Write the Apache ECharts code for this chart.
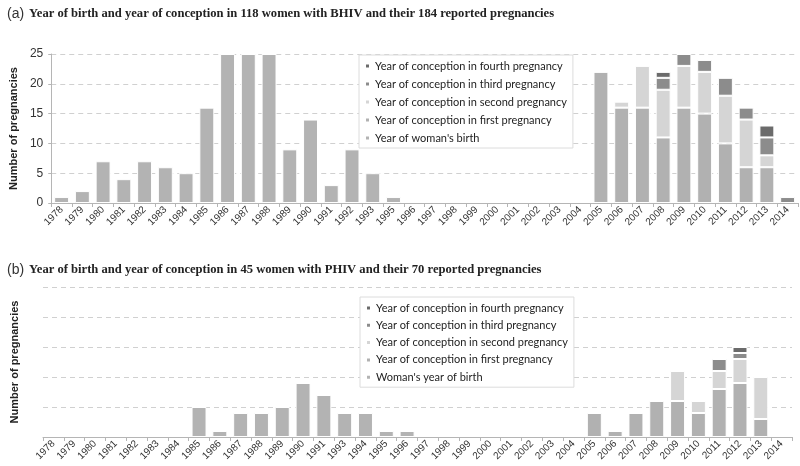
<!DOCTYPE html>
<html>
<head>
<meta charset="utf-8">
<script src="https://cdn.jsdelivr.net/npm/echarts@6/dist/echarts.min.js"></script>
<style>html,body{margin:0;padding:0;background:#fff}#c{width:800px;height:466px}</style>
</head>
<body>
<div id="c"></div>
<script>
// ---- Panel (a) ----
const yearsA = ['1978','1979','1980','1981','1982','1983','1984','1985','1986','1987','1988','1989','1990','1991','1992','1993','1995','1996','1997','1998','1999','2000','2001','2002','2003','2004','2005','2006','2007','2008','2009','2010','2011','2012','2013','2014'];
const birthA  = [1,2,7,4,7,6,5,16,25,25,25,9,14,3,9,5,1,0,0,0,0,0,0,0,0,0,0,0,0,0,0,0,0,0,0,0];
const firstA  = [0,0,0,0,0,0,0,0,0,0,0,0,0,0,0,0,0,0,0,0,0,0,0,0,0,0,22,16,16,11,16,15,10,6,6,0];
const secondA = [0,0,0,0,0,0,0,0,0,0,0,0,0,0,0,0,0,0,0,0,0,0,0,0,0,0,0,1,7,8,7,7,8,8,2,0];
const thirdA  = [0,0,0,0,0,0,0,0,0,0,0,0,0,0,0,0,0,0,0,0,0,0,0,0,0,0,0,0,0,2,2,2,3,2,3,1];
const fourthA = [0,0,0,0,0,0,0,0,0,0,0,0,0,0,0,0,0,0,0,0,0,0,0,0,0,0,0,0,0,1,0,0,0,0,2,0];

// ---- Panel (b) ----
const yearsB = ['1978','1979','1980','1981','1982','1983','1984','1985','1986','1987','1988','1989','1990','1991','1993','1994','1995','1996','1997','1998','1999','2000','2001','2002','2003','2004','2005','2006','2007','2008','2009','2010','2011','2012','2013','2014'];
const birthB  = [0,0,0,0,0,0,0,5,1,4,4,5,9,7,4,4,1,1,0,0,0,0,0,0,0,0,0,0,0,0,0,0,0,0,0,0];
const firstB  = [0,0,0,0,0,0,0,0,0,0,0,0,0,0,0,0,0,0,0,0,0,0,0,0,0,0,4,1,4,6,6,4,8,9,3,0];
const secondB = [0,0,0,0,0,0,0,0,0,0,0,0,0,0,0,0,0,0,0,0,0,0,0,0,0,0,0,0,0,0,5,2,3,4,7,0];
const thirdB  = [0,0,0,0,0,0,0,0,0,0,0,0,0,0,0,0,0,0,0,0,0,0,0,0,0,0,0,0,0,0,0,0,2,1,0,0];
const fourthB = [0,0,0,0,0,0,0,0,0,0,0,0,0,0,0,0,0,0,0,0,0,0,0,0,0,0,0,0,0,0,0,0,0,1,0,0];

const yTicks = [0,5,10,15,20,25];

const titleA = 'Year of birth and year of conception in 118 women with BHIV and their 184 reported pregnancies';
const titleB = 'Year of birth and year of conception in 45 women with PHIV and their 70 reported pregnancies';
const nFourth = 'Year of conception in fourth pregnancy';
const nThird = 'Year of conception in third pregnancy';
const nSecond = 'Year of conception in second pregnancy';
const nFirst = 'Year of conception in first pregnancy';
const nBirthA = "Year of woman's birth";
const nBirthB = "Woman's year of birth";

const colors = {birth:'#b3b3b3', first:'#b1b1b1', second:'#d5d5d5', third:'#8c8c8c', fourth:'#6b6b6b'};

const nz = a => a.map(v => v === 0 ? null : v);

function bar(name, data, idx, color, stack) {
  return {
    name, type:'bar', stack, xAxisIndex:idx, yAxisIndex:idx,
    data: nz(data), barCategoryGap:'28%',
    itemStyle:{color, borderColor:'#fff', borderWidth:1},
    emphasis:{disabled:true}, animation:false
  };
}

const chart = echarts.init(document.getElementById('c'), null, {renderer:'canvas'});

const xAxisCommon = {
  type:'category', boundaryGap:true,
  axisLine:{lineStyle:{color:'#b5b5b5', width:1}},
  axisTick:{show:true, length:4, lineStyle:{color:'#b5b5b5'}},
  axisLabel:{rotate:45, fontSize:10, color:'#333', fontFamily:'Liberation Sans', margin:5, interval:0}
};

const titleRich = {
  p:{fontFamily:'Liberation Sans', fontSize:14, color:'#333', fontWeight:'normal'},
  t:{fontFamily:'Liberation Serif', fontSize:12.6, fontWeight:'bold', color:'#222'}
};

const legendCommon = {
  orient:'vertical', itemWidth:5, itemHeight:5, icon:'rect',
  backgroundColor:'#fff', borderColor:'#dcdcdc', borderWidth:1,
  textStyle:{fontFamily:'Lato', fontSize:11, color:'#222', lineHeight:14},
  padding:[4,6,3,5], selectedMode:false
};

chart.setOption({
  animation:false,
  title:[
    {text:'{p|(a)} {t|' + titleA + '}', left:2, top:0, textStyle:{rich:titleRich}},
    {text:'{p|(b)} {t|' + titleB + '}', left:2, top:256, textStyle:{rich:titleRich}}
  ],
  legend:[
    Object.assign({}, legendCommon, {left:359, top:55, itemGap:4, data:[nFourth,nThird,nSecond,nFirst,nBirthA]}),
    Object.assign({}, legendCommon, {left:360, top:297, itemGap:3.3, data:[nFourth,nThird,nSecond,nFirst,nBirthB]})
  ],
  grid:[
    {left:47, right:2, top:54, height:149},
    {left:43, right:8, top:287, height:150}
  ],
  xAxis:[
    Object.assign({}, xAxisCommon, {gridIndex:0, data:yearsA}),
    Object.assign({}, xAxisCommon, {gridIndex:1, data:yearsB})
  ],
  yAxis:[
    {type:'value', gridIndex:0, min:yTicks[0], max:yTicks[yTicks.length-1], interval:yTicks[1]-yTicks[0],
     name:'Number of pregnancies', nameLocation:'middle', nameGap:25,
     nameTextStyle:{fontFamily:'Liberation Sans', fontWeight:'bold', fontSize:11, color:'#222'},
     axisLine:{show:true, lineStyle:{color:'#b5b5b5'}},
     axisTick:{show:true, length:3, lineStyle:{color:'#b5b5b5'}},
     axisLabel:{fontSize:12, color:'#333', fontFamily:'Liberation Sans', margin:8},
     splitLine:{lineStyle:{type:[5,4], color:'#d0d0d0'}}},
    {type:'value', gridIndex:1, min:yTicks[0], max:yTicks[yTicks.length-1], interval:yTicks[1]-yTicks[0],
     name:'Number of pregnancies', nameLocation:'middle', nameGap:23,
     nameTextStyle:{fontFamily:'Liberation Sans', fontWeight:'bold', fontSize:11, color:'#222'},
     axisLine:{show:false}, axisTick:{show:false}, axisLabel:{show:false},
     splitLine:{lineStyle:{type:[5,4], color:'#d0d0d0'}}}
  ],
  series:[
    bar(nBirthA, birthA, 0, colors.birth, 'a'),
    bar(nFirst, firstA, 0, colors.first, 'a'),
    bar(nSecond, secondA, 0, colors.second, 'a'),
    bar(nThird, thirdA, 0, colors.third, 'a'),
    bar(nFourth, fourthA, 0, colors.fourth, 'a'),
    bar(nBirthB, birthB, 1, colors.birth, 'b'),
    bar(nFirst, firstB, 1, colors.first, 'b'),
    bar(nSecond, secondB, 1, colors.second, 'b'),
    bar(nThird, thirdB, 1, colors.third, 'b'),
    bar(nFourth, fourthB, 1, colors.fourth, 'b')
  ]
});
</script>
</body>
</html>
